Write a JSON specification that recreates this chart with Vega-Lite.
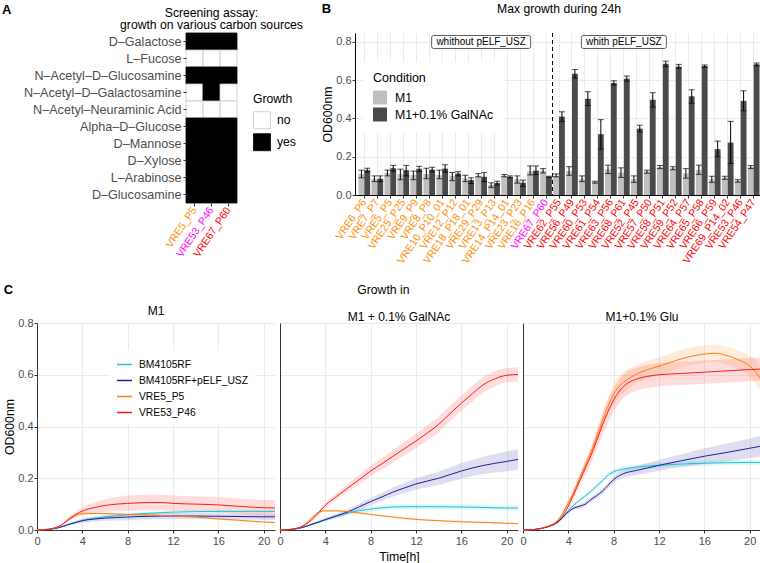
{
"$schema": "https://vega.github.io/schema/vega-lite/v6.json",
"background": "white",
"padding": {"left": 2, "top": 3, "right": 0, "bottom": 0},
"config": {
  "font": "Liberation Sans",
  "view": {"stroke": null},
  "axis": {"labelColor": "#4d4d4d", "tickColor": "#333333", "domainColor": "#333333", "gridColor": "#ebebeb", "titleFontWeight": "normal", "titleColor": "#000000", "titleFontSize": 12.3, "labelFontSize": 11, "tickSize": 3, "labelFont": "Liberation Sans", "titleFont": "Liberation Sans"},
  "title": {"fontWeight": "normal", "color": "#000000", "font": "Liberation Sans"},
  "legend": {"titleFontWeight": "normal", "labelColor": "#000000", "titleColor": "#000000", "labelFont": "Liberation Sans", "titleFont": "Liberation Sans"}
},
"datasets": {
  "heat": [
    {"source": "D–Galactose", "strain": "VRE5_P5", "growth": "yes"},
    {"source": "D–Galactose", "strain": "VRE53_P46", "growth": "yes"},
    {"source": "D–Galactose", "strain": "VRE67_P60", "growth": "yes"},
    {"source": "L–Fucose", "strain": "VRE5_P5", "growth": "no"},
    {"source": "L–Fucose", "strain": "VRE53_P46", "growth": "no"},
    {"source": "L–Fucose", "strain": "VRE67_P60", "growth": "no"},
    {"source": "N–Acetyl–D–Glucosamine", "strain": "VRE5_P5", "growth": "yes"},
    {"source": "N–Acetyl–D–Glucosamine", "strain": "VRE53_P46", "growth": "yes"},
    {"source": "N–Acetyl–D–Glucosamine", "strain": "VRE67_P60", "growth": "yes"},
    {"source": "N–Acetyl–D–Galactosamine", "strain": "VRE5_P5", "growth": "no"},
    {"source": "N–Acetyl–D–Galactosamine", "strain": "VRE53_P46", "growth": "yes"},
    {"source": "N–Acetyl–D–Galactosamine", "strain": "VRE67_P60", "growth": "no"},
    {"source": "N–Acetyl–Neuraminic Acid", "strain": "VRE5_P5", "growth": "no"},
    {"source": "N–Acetyl–Neuraminic Acid", "strain": "VRE53_P46", "growth": "no"},
    {"source": "N–Acetyl–Neuraminic Acid", "strain": "VRE67_P60", "growth": "no"},
    {"source": "Alpha–D–Glucose", "strain": "VRE5_P5", "growth": "yes"},
    {"source": "Alpha–D–Glucose", "strain": "VRE53_P46", "growth": "yes"},
    {"source": "Alpha–D–Glucose", "strain": "VRE67_P60", "growth": "yes"},
    {"source": "D–Mannose", "strain": "VRE5_P5", "growth": "yes"},
    {"source": "D–Mannose", "strain": "VRE53_P46", "growth": "yes"},
    {"source": "D–Mannose", "strain": "VRE67_P60", "growth": "yes"},
    {"source": "D–Xylose", "strain": "VRE5_P5", "growth": "yes"},
    {"source": "D–Xylose", "strain": "VRE53_P46", "growth": "yes"},
    {"source": "D–Xylose", "strain": "VRE67_P60", "growth": "yes"},
    {"source": "L–Arabinose", "strain": "VRE5_P5", "growth": "yes"},
    {"source": "L–Arabinose", "strain": "VRE53_P46", "growth": "yes"},
    {"source": "L–Arabinose", "strain": "VRE67_P60", "growth": "yes"},
    {"source": "D–Glucosamine", "strain": "VRE5_P5", "growth": "yes"},
    {"source": "D–Glucosamine", "strain": "VRE53_P46", "growth": "yes"},
    {"source": "D–Glucosamine", "strain": "VRE67_P60", "growth": "yes"}
  ],
  "bars": [
    {"strain": "VRE6_P6", "cond": "M1", "mean": 0.11, "lo": 0.09, "hi": 0.13},
    {"strain": "VRE6_P6", "cond": "M1+0.1% GalNAc", "mean": 0.13, "lo": 0.12, "hi": 0.14},
    {"strain": "VRE7_P7", "cond": "M1", "mean": 0.085, "lo": 0.07, "hi": 0.1},
    {"strain": "VRE7_P7", "cond": "M1+0.1% GalNAc", "mean": 0.085, "lo": 0.07, "hi": 0.1},
    {"strain": "VRE5_P5", "cond": "M1", "mean": 0.115, "lo": 0.1, "hi": 0.13},
    {"strain": "VRE5_P5", "cond": "M1+0.1% GalNAc", "mean": 0.14, "lo": 0.125, "hi": 0.155},
    {"strain": "VRE25_P25", "cond": "M1", "mean": 0.11, "lo": 0.08, "hi": 0.135},
    {"strain": "VRE25_P25", "cond": "M1+0.1% GalNAc", "mean": 0.13, "lo": 0.1, "hi": 0.155},
    {"strain": "VRE9_P9", "cond": "M1", "mean": 0.105, "lo": 0.08, "hi": 0.125},
    {"strain": "VRE9_P9", "cond": "M1+0.1% GalNAc", "mean": 0.137, "lo": 0.122, "hi": 0.15},
    {"strain": "VRE8_P8", "cond": "M1", "mean": 0.11, "lo": 0.085, "hi": 0.14},
    {"strain": "VRE8_P8", "cond": "M1+0.1% GalNAc", "mean": 0.133, "lo": 0.12, "hi": 0.145},
    {"strain": "VRE10_P10_01", "cond": "M1", "mean": 0.105, "lo": 0.085, "hi": 0.13},
    {"strain": "VRE10_P10_01", "cond": "M1+0.1% GalNAc", "mean": 0.138, "lo": 0.12, "hi": 0.158},
    {"strain": "VRE12_P12", "cond": "M1", "mean": 0.1, "lo": 0.075, "hi": 0.118},
    {"strain": "VRE12_P12", "cond": "M1+0.1% GalNAc", "mean": 0.112, "lo": 0.1, "hi": 0.122},
    {"strain": "VRE18_P18_01", "cond": "M1", "mean": 0.086, "lo": 0.07, "hi": 0.103},
    {"strain": "VRE18_P18_01", "cond": "M1+0.1% GalNAc", "mean": 0.078, "lo": 0.06, "hi": 0.09},
    {"strain": "VRE29_P29", "cond": "M1", "mean": 0.1, "lo": 0.095, "hi": 0.112},
    {"strain": "VRE29_P29", "cond": "M1+0.1% GalNAc", "mean": 0.095, "lo": 0.07, "hi": 0.118},
    {"strain": "VRE13_P13", "cond": "M1", "mean": 0.053, "lo": 0.04, "hi": 0.064},
    {"strain": "VRE13_P13", "cond": "M1+0.1% GalNAc", "mean": 0.063, "lo": 0.052, "hi": 0.072},
    {"strain": "VRE14_P14_01", "cond": "M1", "mean": 0.1, "lo": 0.095, "hi": 0.107},
    {"strain": "VRE14_P14_01", "cond": "M1+0.1% GalNAc", "mean": 0.095, "lo": 0.09, "hi": 0.1},
    {"strain": "VRE23_P23", "cond": "M1", "mean": 0.083, "lo": 0.062, "hi": 0.1},
    {"strain": "VRE23_P23", "cond": "M1+0.1% GalNAc", "mean": 0.064, "lo": 0.045, "hi": 0.078},
    {"strain": "VRE16_P16", "cond": "M1", "mean": 0.124, "lo": 0.105, "hi": 0.152},
    {"strain": "VRE16_P16", "cond": "M1+0.1% GalNAc", "mean": 0.127, "lo": 0.107, "hi": 0.152},
    {"strain": "VRE67_P60", "cond": "M1", "mean": 0.127, "lo": 0.115, "hi": 0.138},
    {"strain": "VRE67_P60", "cond": "M1+0.1% GalNAc", "mean": 0.095, "lo": 0.092, "hi": 0.098},
    {"strain": "VRE62_P55", "cond": "M1", "mean": 0.1, "lo": 0.095, "hi": 0.11},
    {"strain": "VRE62_P55", "cond": "M1+0.1% GalNAc", "mean": 0.41, "lo": 0.385, "hi": 0.435},
    {"strain": "VRE56_P49", "cond": "M1", "mean": 0.125, "lo": 0.103, "hi": 0.148},
    {"strain": "VRE56_P49", "cond": "M1+0.1% GalNAc", "mean": 0.634, "lo": 0.612, "hi": 0.656},
    {"strain": "VRE60_P53", "cond": "M1", "mean": 0.085, "lo": 0.07, "hi": 0.1},
    {"strain": "VRE60_P53", "cond": "M1+0.1% GalNAc", "mean": 0.503, "lo": 0.468, "hi": 0.54},
    {"strain": "VRE61_P54", "cond": "M1", "mean": 0.067, "lo": 0.062, "hi": 0.072},
    {"strain": "VRE61_P54", "cond": "M1+0.1% GalNAc", "mean": 0.318, "lo": 0.24, "hi": 0.394},
    {"strain": "VRE63_P56", "cond": "M1", "mean": 0.134, "lo": 0.112, "hi": 0.156},
    {"strain": "VRE63_P56", "cond": "M1+0.1% GalNAc", "mean": 0.585, "lo": 0.575, "hi": 0.597},
    {"strain": "VRE68_P61", "cond": "M1", "mean": 0.117, "lo": 0.092, "hi": 0.142},
    {"strain": "VRE68_P61", "cond": "M1+0.1% GalNAc", "mean": 0.608, "lo": 0.595, "hi": 0.622},
    {"strain": "VRE52_P45", "cond": "M1", "mean": 0.083, "lo": 0.066, "hi": 0.1},
    {"strain": "VRE52_P45", "cond": "M1+0.1% GalNAc", "mean": 0.347, "lo": 0.33, "hi": 0.365},
    {"strain": "VRE57_P50", "cond": "M1", "mean": 0.122, "lo": 0.114, "hi": 0.13},
    {"strain": "VRE57_P50", "cond": "M1+0.1% GalNAc", "mean": 0.498, "lo": 0.46, "hi": 0.535},
    {"strain": "VRE58_P51", "cond": "M1", "mean": 0.146, "lo": 0.138, "hi": 0.154},
    {"strain": "VRE58_P51", "cond": "M1+0.1% GalNAc", "mean": 0.686, "lo": 0.671, "hi": 0.7},
    {"strain": "VRE59_P52", "cond": "M1", "mean": 0.14, "lo": 0.132, "hi": 0.148},
    {"strain": "VRE59_P52", "cond": "M1+0.1% GalNAc", "mean": 0.672, "lo": 0.662, "hi": 0.683},
    {"strain": "VRE64_P57", "cond": "M1", "mean": 0.113, "lo": 0.088, "hi": 0.138},
    {"strain": "VRE64_P57", "cond": "M1+0.1% GalNAc", "mean": 0.516, "lo": 0.48, "hi": 0.55},
    {"strain": "VRE65_P58", "cond": "M1", "mean": 0.132, "lo": 0.108, "hi": 0.156},
    {"strain": "VRE65_P58", "cond": "M1+0.1% GalNAc", "mean": 0.674, "lo": 0.668, "hi": 0.68},
    {"strain": "VRE66_P59", "cond": "M1", "mean": 0.082, "lo": 0.066, "hi": 0.098},
    {"strain": "VRE66_P59", "cond": "M1+0.1% GalNAc", "mean": 0.24, "lo": 0.2, "hi": 0.282},
    {"strain": "VRE69_P14_02", "cond": "M1", "mean": 0.09, "lo": 0.082, "hi": 0.098},
    {"strain": "VRE69_P14_02", "cond": "M1+0.1% GalNAc", "mean": 0.274, "lo": 0.165, "hi": 0.385},
    {"strain": "VRE53_P46", "cond": "M1", "mean": 0.073, "lo": 0.067, "hi": 0.08},
    {"strain": "VRE53_P46", "cond": "M1+0.1% GalNAc", "mean": 0.492, "lo": 0.44, "hi": 0.545},
    {"strain": "VRE54_P47", "cond": "M1", "mean": 0.146, "lo": 0.138, "hi": 0.154},
    {"strain": "VRE54_P47", "cond": "M1+0.1% GalNAc", "mean": 0.683, "lo": 0.675, "hi": 0.69}
  ],
  "ann": [
    {"strain": "VRE29_P29", "y": 0.8, "label": "whithout pELF_USZ"},
    {"strain": "VRE68_P61", "y": 0.8, "label": "whith pELF_USZ"}
  ],
  "sep": [{"strain": "VRE62_P55"}],
  "empty": [],
  "curves": [
    {"c":"M1","s":"BM4105RF","t":0,"m":0,"lo":0,"hi":0},
    {"c":"M1","s":"BM4105RF","t":1,"m":0.002,"lo":0.002,"hi":0.002},
    {"c":"M1","s":"BM4105RF","t":2,"m":0.01,"lo":0.008,"hi":0.012},
    {"c":"M1","s":"BM4105RF","t":3,"m":0.025,"lo":0.021,"hi":0.029},
    {"c":"M1","s":"BM4105RF","t":3.5,"m":0.031,"lo":0.027,"hi":0.035},
    {"c":"M1","s":"BM4105RF","t":4,"m":0.037,"lo":0.032,"hi":0.042},
    {"c":"M1","s":"BM4105RF","t":5,"m":0.045,"lo":0.04,"hi":0.05},
    {"c":"M1","s":"BM4105RF","t":6,"m":0.051,"lo":0.046,"hi":0.056},
    {"c":"M1","s":"BM4105RF","t":7,"m":0.055,"lo":0.05,"hi":0.06},
    {"c":"M1","s":"BM4105RF","t":8,"m":0.059,"lo":0.054,"hi":0.064},
    {"c":"M1","s":"BM4105RF","t":9,"m":0.062,"lo":0.057,"hi":0.067},
    {"c":"M1","s":"BM4105RF","t":10,"m":0.065,"lo":0.06,"hi":0.07},
    {"c":"M1","s":"BM4105RF","t":11,"m":0.067,"lo":0.062,"hi":0.072},
    {"c":"M1","s":"BM4105RF","t":12,"m":0.069,"lo":0.064,"hi":0.074},
    {"c":"M1","s":"BM4105RF","t":14,"m":0.071,"lo":0.066,"hi":0.076},
    {"c":"M1","s":"BM4105RF","t":16,"m":0.072,"lo":0.067,"hi":0.077},
    {"c":"M1","s":"BM4105RF","t":18,"m":0.072,"lo":0.067,"hi":0.077},
    {"c":"M1","s":"BM4105RF","t":20,"m":0.072,"lo":0.067,"hi":0.077},
    {"c":"M1","s":"BM4105RF","t":21,"m":0.072,"lo":0.067,"hi":0.077},
    {"c":"M1","s":"BM4105RF+pELF_USZ","t":0,"m":0,"lo":0,"hi":0},
    {"c":"M1","s":"BM4105RF+pELF_USZ","t":1,"m":0.002,"lo":0.002,"hi":0.002},
    {"c":"M1","s":"BM4105RF+pELF_USZ","t":2,"m":0.01,"lo":0.008,"hi":0.012},
    {"c":"M1","s":"BM4105RF+pELF_USZ","t":3,"m":0.024,"lo":0.019,"hi":0.029},
    {"c":"M1","s":"BM4105RF+pELF_USZ","t":3.5,"m":0.03,"lo":0.024,"hi":0.036},
    {"c":"M1","s":"BM4105RF+pELF_USZ","t":4,"m":0.036,"lo":0.028,"hi":0.044},
    {"c":"M1","s":"BM4105RF+pELF_USZ","t":5,"m":0.042,"lo":0.032,"hi":0.052},
    {"c":"M1","s":"BM4105RF+pELF_USZ","t":6,"m":0.046,"lo":0.036,"hi":0.056},
    {"c":"M1","s":"BM4105RF+pELF_USZ","t":7,"m":0.048,"lo":0.037,"hi":0.059},
    {"c":"M1","s":"BM4105RF+pELF_USZ","t":8,"m":0.05,"lo":0.038,"hi":0.062},
    {"c":"M1","s":"BM4105RF+pELF_USZ","t":9,"m":0.052,"lo":0.04,"hi":0.064},
    {"c":"M1","s":"BM4105RF+pELF_USZ","t":10,"m":0.053,"lo":0.041,"hi":0.065},
    {"c":"M1","s":"BM4105RF+pELF_USZ","t":11,"m":0.054,"lo":0.042,"hi":0.066},
    {"c":"M1","s":"BM4105RF+pELF_USZ","t":12,"m":0.054,"lo":0.042,"hi":0.066},
    {"c":"M1","s":"BM4105RF+pELF_USZ","t":14,"m":0.054,"lo":0.042,"hi":0.066},
    {"c":"M1","s":"BM4105RF+pELF_USZ","t":16,"m":0.053,"lo":0.041,"hi":0.065},
    {"c":"M1","s":"BM4105RF+pELF_USZ","t":18,"m":0.052,"lo":0.04,"hi":0.064},
    {"c":"M1","s":"BM4105RF+pELF_USZ","t":20,"m":0.051,"lo":0.039,"hi":0.063},
    {"c":"M1","s":"BM4105RF+pELF_USZ","t":21,"m":0.051,"lo":0.039,"hi":0.063},
    {"c":"M1","s":"VRE5_P5","t":0,"m":0,"lo":0,"hi":0},
    {"c":"M1","s":"VRE5_P5","t":1,"m":0.003,"lo":0.003,"hi":0.003},
    {"c":"M1","s":"VRE5_P5","t":2,"m":0.015,"lo":0.013,"hi":0.017},
    {"c":"M1","s":"VRE5_P5","t":3,"m":0.045,"lo":0.041,"hi":0.049},
    {"c":"M1","s":"VRE5_P5","t":3.5,"m":0.058,"lo":0.054,"hi":0.062},
    {"c":"M1","s":"VRE5_P5","t":4,"m":0.063,"lo":0.059,"hi":0.067},
    {"c":"M1","s":"VRE5_P5","t":5,"m":0.064,"lo":0.06,"hi":0.068},
    {"c":"M1","s":"VRE5_P5","t":6,"m":0.063,"lo":0.059,"hi":0.067},
    {"c":"M1","s":"VRE5_P5","t":7,"m":0.062,"lo":0.058,"hi":0.066},
    {"c":"M1","s":"VRE5_P5","t":8,"m":0.06,"lo":0.056,"hi":0.064},
    {"c":"M1","s":"VRE5_P5","t":9,"m":0.059,"lo":0.055,"hi":0.063},
    {"c":"M1","s":"VRE5_P5","t":10,"m":0.058,"lo":0.054,"hi":0.062},
    {"c":"M1","s":"VRE5_P5","t":11,"m":0.056,"lo":0.052,"hi":0.06},
    {"c":"M1","s":"VRE5_P5","t":12,"m":0.054,"lo":0.05,"hi":0.058},
    {"c":"M1","s":"VRE5_P5","t":14,"m":0.05,"lo":0.046,"hi":0.054},
    {"c":"M1","s":"VRE5_P5","t":16,"m":0.043,"lo":0.039,"hi":0.047},
    {"c":"M1","s":"VRE5_P5","t":18,"m":0.037,"lo":0.033,"hi":0.041},
    {"c":"M1","s":"VRE5_P5","t":20,"m":0.031,"lo":0.027,"hi":0.035},
    {"c":"M1","s":"VRE5_P5","t":21,"m":0.029,"lo":0.025,"hi":0.033},
    {"c":"M1","s":"VRE53_P46","t":0,"m":0,"lo":0,"hi":0},
    {"c":"M1","s":"VRE53_P46","t":1,"m":0.003,"lo":0.002,"hi":0.004},
    {"c":"M1","s":"VRE53_P46","t":2,"m":0.016,"lo":0.013,"hi":0.019},
    {"c":"M1","s":"VRE53_P46","t":3,"m":0.048,"lo":0.04,"hi":0.056},
    {"c":"M1","s":"VRE53_P46","t":3.5,"m":0.062,"lo":0.05,"hi":0.074},
    {"c":"M1","s":"VRE53_P46","t":4,"m":0.073,"lo":0.058,"hi":0.088},
    {"c":"M1","s":"VRE53_P46","t":5,"m":0.086,"lo":0.066,"hi":0.106},
    {"c":"M1","s":"VRE53_P46","t":6,"m":0.095,"lo":0.07,"hi":0.12},
    {"c":"M1","s":"VRE53_P46","t":7,"m":0.1,"lo":0.072,"hi":0.128},
    {"c":"M1","s":"VRE53_P46","t":8,"m":0.103,"lo":0.073,"hi":0.133},
    {"c":"M1","s":"VRE53_P46","t":9,"m":0.105,"lo":0.075,"hi":0.135},
    {"c":"M1","s":"VRE53_P46","t":10,"m":0.106,"lo":0.076,"hi":0.136},
    {"c":"M1","s":"VRE53_P46","t":11,"m":0.106,"lo":0.076,"hi":0.136},
    {"c":"M1","s":"VRE53_P46","t":12,"m":0.103,"lo":0.073,"hi":0.133},
    {"c":"M1","s":"VRE53_P46","t":14,"m":0.1,"lo":0.07,"hi":0.13},
    {"c":"M1","s":"VRE53_P46","t":16,"m":0.097,"lo":0.067,"hi":0.127},
    {"c":"M1","s":"VRE53_P46","t":18,"m":0.091,"lo":0.061,"hi":0.121},
    {"c":"M1","s":"VRE53_P46","t":20,"m":0.086,"lo":0.056,"hi":0.116},
    {"c":"M1","s":"VRE53_P46","t":21,"m":0.085,"lo":0.055,"hi":0.115},
    {"c":"GalNAc","s":"BM4105RF","t":0,"m":0,"lo":0,"hi":0},
    {"c":"GalNAc","s":"BM4105RF","t":1,"m":0.002,"lo":0.002,"hi":0.002},
    {"c":"GalNAc","s":"BM4105RF","t":2,"m":0.01,"lo":0.008,"hi":0.012},
    {"c":"GalNAc","s":"BM4105RF","t":3,"m":0.025,"lo":0.021,"hi":0.029},
    {"c":"GalNAc","s":"BM4105RF","t":3.5,"m":0.033,"lo":0.028,"hi":0.038},
    {"c":"GalNAc","s":"BM4105RF","t":4,"m":0.04,"lo":0.034,"hi":0.046},
    {"c":"GalNAc","s":"BM4105RF","t":5,"m":0.053,"lo":0.045,"hi":0.061},
    {"c":"GalNAc","s":"BM4105RF","t":6,"m":0.066,"lo":0.057,"hi":0.075},
    {"c":"GalNAc","s":"BM4105RF","t":7,"m":0.075,"lo":0.065,"hi":0.085},
    {"c":"GalNAc","s":"BM4105RF","t":8,"m":0.081,"lo":0.071,"hi":0.091},
    {"c":"GalNAc","s":"BM4105RF","t":9,"m":0.086,"lo":0.076,"hi":0.096},
    {"c":"GalNAc","s":"BM4105RF","t":10,"m":0.089,"lo":0.079,"hi":0.099},
    {"c":"GalNAc","s":"BM4105RF","t":11,"m":0.09,"lo":0.08,"hi":0.1},
    {"c":"GalNAc","s":"BM4105RF","t":12,"m":0.09,"lo":0.08,"hi":0.1},
    {"c":"GalNAc","s":"BM4105RF","t":14,"m":0.09,"lo":0.08,"hi":0.1},
    {"c":"GalNAc","s":"BM4105RF","t":16,"m":0.089,"lo":0.079,"hi":0.099},
    {"c":"GalNAc","s":"BM4105RF","t":18,"m":0.087,"lo":0.077,"hi":0.097},
    {"c":"GalNAc","s":"BM4105RF","t":20,"m":0.085,"lo":0.075,"hi":0.095},
    {"c":"GalNAc","s":"BM4105RF","t":21,"m":0.085,"lo":0.075,"hi":0.095},
    {"c":"GalNAc","s":"BM4105RF+pELF_USZ","t":0,"m":0,"lo":0,"hi":0},
    {"c":"GalNAc","s":"BM4105RF+pELF_USZ","t":1,"m":0.002,"lo":0.002,"hi":0.002},
    {"c":"GalNAc","s":"BM4105RF+pELF_USZ","t":2,"m":0.01,"lo":0.008,"hi":0.012},
    {"c":"GalNAc","s":"BM4105RF+pELF_USZ","t":3,"m":0.025,"lo":0.021,"hi":0.029},
    {"c":"GalNAc","s":"BM4105RF+pELF_USZ","t":3.5,"m":0.032,"lo":0.027,"hi":0.037},
    {"c":"GalNAc","s":"BM4105RF+pELF_USZ","t":4,"m":0.04,"lo":0.034,"hi":0.046},
    {"c":"GalNAc","s":"BM4105RF+pELF_USZ","t":5,"m":0.055,"lo":0.047,"hi":0.063},
    {"c":"GalNAc","s":"BM4105RF+pELF_USZ","t":6,"m":0.07,"lo":0.06,"hi":0.08},
    {"c":"GalNAc","s":"BM4105RF+pELF_USZ","t":7,"m":0.09,"lo":0.078,"hi":0.102},
    {"c":"GalNAc","s":"BM4105RF+pELF_USZ","t":8,"m":0.11,"lo":0.096,"hi":0.124},
    {"c":"GalNAc","s":"BM4105RF+pELF_USZ","t":9,"m":0.128,"lo":0.112,"hi":0.144},
    {"c":"GalNAc","s":"BM4105RF+pELF_USZ","t":10,"m":0.147,"lo":0.129,"hi":0.165},
    {"c":"GalNAc","s":"BM4105RF+pELF_USZ","t":11,"m":0.163,"lo":0.143,"hi":0.183},
    {"c":"GalNAc","s":"BM4105RF+pELF_USZ","t":12,"m":0.178,"lo":0.156,"hi":0.2},
    {"c":"GalNAc","s":"BM4105RF+pELF_USZ","t":14,"m":0.2,"lo":0.174,"hi":0.226},
    {"c":"GalNAc","s":"BM4105RF+pELF_USZ","t":16,"m":0.228,"lo":0.198,"hi":0.258},
    {"c":"GalNAc","s":"BM4105RF+pELF_USZ","t":18,"m":0.25,"lo":0.216,"hi":0.284},
    {"c":"GalNAc","s":"BM4105RF+pELF_USZ","t":19,"m":0.258,"lo":0.222,"hi":0.294},
    {"c":"GalNAc","s":"BM4105RF+pELF_USZ","t":20,"m":0.265,"lo":0.227,"hi":0.303},
    {"c":"GalNAc","s":"BM4105RF+pELF_USZ","t":21,"m":0.273,"lo":0.233,"hi":0.313},
    {"c":"GalNAc","s":"VRE5_P5","t":0,"m":0,"lo":0,"hi":0},
    {"c":"GalNAc","s":"VRE5_P5","t":1,"m":0.003,"lo":0.003,"hi":0.003},
    {"c":"GalNAc","s":"VRE5_P5","t":2,"m":0.015,"lo":0.013,"hi":0.017},
    {"c":"GalNAc","s":"VRE5_P5","t":3,"m":0.055,"lo":0.051,"hi":0.059},
    {"c":"GalNAc","s":"VRE5_P5","t":3.5,"m":0.07,"lo":0.066,"hi":0.074},
    {"c":"GalNAc","s":"VRE5_P5","t":4,"m":0.074,"lo":0.07,"hi":0.078},
    {"c":"GalNAc","s":"VRE5_P5","t":5,"m":0.074,"lo":0.07,"hi":0.078},
    {"c":"GalNAc","s":"VRE5_P5","t":6,"m":0.071,"lo":0.067,"hi":0.075},
    {"c":"GalNAc","s":"VRE5_P5","t":7,"m":0.066,"lo":0.062,"hi":0.07},
    {"c":"GalNAc","s":"VRE5_P5","t":8,"m":0.06,"lo":0.056,"hi":0.064},
    {"c":"GalNAc","s":"VRE5_P5","t":9,"m":0.055,"lo":0.051,"hi":0.059},
    {"c":"GalNAc","s":"VRE5_P5","t":10,"m":0.05,"lo":0.046,"hi":0.054},
    {"c":"GalNAc","s":"VRE5_P5","t":11,"m":0.045,"lo":0.041,"hi":0.049},
    {"c":"GalNAc","s":"VRE5_P5","t":12,"m":0.041,"lo":0.037,"hi":0.045},
    {"c":"GalNAc","s":"VRE5_P5","t":14,"m":0.036,"lo":0.032,"hi":0.04},
    {"c":"GalNAc","s":"VRE5_P5","t":16,"m":0.032,"lo":0.028,"hi":0.036},
    {"c":"GalNAc","s":"VRE5_P5","t":18,"m":0.029,"lo":0.025,"hi":0.033},
    {"c":"GalNAc","s":"VRE5_P5","t":20,"m":0.026,"lo":0.022,"hi":0.03},
    {"c":"GalNAc","s":"VRE5_P5","t":21,"m":0.025,"lo":0.021,"hi":0.029},
    {"c":"GalNAc","s":"VRE53_P46","t":0,"m":0,"lo":0,"hi":0},
    {"c":"GalNAc","s":"VRE53_P46","t":1,"m":0.003,"lo":0.002,"hi":0.004},
    {"c":"GalNAc","s":"VRE53_P46","t":2,"m":0.015,"lo":0.012,"hi":0.018},
    {"c":"GalNAc","s":"VRE53_P46","t":3,"m":0.048,"lo":0.042,"hi":0.054},
    {"c":"GalNAc","s":"VRE53_P46","t":3.5,"m":0.072,"lo":0.064,"hi":0.08},
    {"c":"GalNAc","s":"VRE53_P46","t":4,"m":0.095,"lo":0.085,"hi":0.105},
    {"c":"GalNAc","s":"VRE53_P46","t":5,"m":0.13,"lo":0.117,"hi":0.143},
    {"c":"GalNAc","s":"VRE53_P46","t":6,"m":0.163,"lo":0.147,"hi":0.179},
    {"c":"GalNAc","s":"VRE53_P46","t":7,"m":0.195,"lo":0.177,"hi":0.213},
    {"c":"GalNAc","s":"VRE53_P46","t":8,"m":0.228,"lo":0.208,"hi":0.248},
    {"c":"GalNAc","s":"VRE53_P46","t":9,"m":0.256,"lo":0.234,"hi":0.278},
    {"c":"GalNAc","s":"VRE53_P46","t":10,"m":0.286,"lo":0.262,"hi":0.31},
    {"c":"GalNAc","s":"VRE53_P46","t":11,"m":0.315,"lo":0.289,"hi":0.341},
    {"c":"GalNAc","s":"VRE53_P46","t":12,"m":0.344,"lo":0.316,"hi":0.372},
    {"c":"GalNAc","s":"VRE53_P46","t":13,"m":0.375,"lo":0.346,"hi":0.404},
    {"c":"GalNAc","s":"VRE53_P46","t":14,"m":0.408,"lo":0.378,"hi":0.438},
    {"c":"GalNAc","s":"VRE53_P46","t":15,"m":0.45,"lo":0.42,"hi":0.48},
    {"c":"GalNAc","s":"VRE53_P46","t":16,"m":0.49,"lo":0.46,"hi":0.52},
    {"c":"GalNAc","s":"VRE53_P46","t":17,"m":0.528,"lo":0.498,"hi":0.558},
    {"c":"GalNAc","s":"VRE53_P46","t":18,"m":0.563,"lo":0.533,"hi":0.593},
    {"c":"GalNAc","s":"VRE53_P46","t":19,"m":0.585,"lo":0.556,"hi":0.614},
    {"c":"GalNAc","s":"VRE53_P46","t":20,"m":0.598,"lo":0.57,"hi":0.626},
    {"c":"GalNAc","s":"VRE53_P46","t":21,"m":0.601,"lo":0.573,"hi":0.629},
    {"c":"Glu","s":"BM4105RF","t":0,"m":0,"lo":0,"hi":0},
    {"c":"Glu","s":"BM4105RF","t":1,"m":0.002,"lo":0.002,"hi":0.002},
    {"c":"Glu","s":"BM4105RF","t":2,"m":0.01,"lo":0.008,"hi":0.012},
    {"c":"Glu","s":"BM4105RF","t":2.5,"m":0.018,"lo":0.015,"hi":0.021},
    {"c":"Glu","s":"BM4105RF","t":3,"m":0.03,"lo":0.026,"hi":0.034},
    {"c":"Glu","s":"BM4105RF","t":3.5,"m":0.05,"lo":0.045,"hi":0.055},
    {"c":"Glu","s":"BM4105RF","t":4,"m":0.075,"lo":0.069,"hi":0.081},
    {"c":"Glu","s":"BM4105RF","t":4.5,"m":0.097,"lo":0.09,"hi":0.104},
    {"c":"Glu","s":"BM4105RF","t":5,"m":0.115,"lo":0.107,"hi":0.123},
    {"c":"Glu","s":"BM4105RF","t":5.5,"m":0.132,"lo":0.124,"hi":0.14},
    {"c":"Glu","s":"BM4105RF","t":6,"m":0.15,"lo":0.141,"hi":0.159},
    {"c":"Glu","s":"BM4105RF","t":6.5,"m":0.17,"lo":0.16,"hi":0.18},
    {"c":"Glu","s":"BM4105RF","t":7,"m":0.19,"lo":0.18,"hi":0.2},
    {"c":"Glu","s":"BM4105RF","t":7.5,"m":0.212,"lo":0.202,"hi":0.222},
    {"c":"Glu","s":"BM4105RF","t":8,"m":0.225,"lo":0.215,"hi":0.235},
    {"c":"Glu","s":"BM4105RF","t":8.5,"m":0.232,"lo":0.222,"hi":0.242},
    {"c":"Glu","s":"BM4105RF","t":9,"m":0.237,"lo":0.227,"hi":0.247},
    {"c":"Glu","s":"BM4105RF","t":10,"m":0.243,"lo":0.233,"hi":0.253},
    {"c":"Glu","s":"BM4105RF","t":12,"m":0.25,"lo":0.24,"hi":0.26},
    {"c":"Glu","s":"BM4105RF","t":14,"m":0.255,"lo":0.245,"hi":0.265},
    {"c":"Glu","s":"BM4105RF","t":16,"m":0.258,"lo":0.248,"hi":0.268},
    {"c":"Glu","s":"BM4105RF","t":18,"m":0.26,"lo":0.25,"hi":0.27},
    {"c":"Glu","s":"BM4105RF","t":20,"m":0.261,"lo":0.251,"hi":0.271},
    {"c":"Glu","s":"BM4105RF","t":21,"m":0.261,"lo":0.251,"hi":0.271},
    {"c":"Glu","s":"BM4105RF+pELF_USZ","t":0,"m":0,"lo":0,"hi":0},
    {"c":"Glu","s":"BM4105RF+pELF_USZ","t":1,"m":0.002,"lo":0.002,"hi":0.002},
    {"c":"Glu","s":"BM4105RF+pELF_USZ","t":2,"m":0.01,"lo":0.008,"hi":0.012},
    {"c":"Glu","s":"BM4105RF+pELF_USZ","t":2.5,"m":0.017,"lo":0.014,"hi":0.02},
    {"c":"Glu","s":"BM4105RF+pELF_USZ","t":3,"m":0.028,"lo":0.024,"hi":0.032},
    {"c":"Glu","s":"BM4105RF+pELF_USZ","t":3.5,"m":0.048,"lo":0.043,"hi":0.053},
    {"c":"Glu","s":"BM4105RF+pELF_USZ","t":4,"m":0.07,"lo":0.064,"hi":0.076},
    {"c":"Glu","s":"BM4105RF+pELF_USZ","t":4.5,"m":0.085,"lo":0.078,"hi":0.092},
    {"c":"Glu","s":"BM4105RF+pELF_USZ","t":5,"m":0.092,"lo":0.084,"hi":0.1},
    {"c":"Glu","s":"BM4105RF+pELF_USZ","t":5.5,"m":0.1,"lo":0.092,"hi":0.108},
    {"c":"Glu","s":"BM4105RF+pELF_USZ","t":6,"m":0.118,"lo":0.109,"hi":0.127},
    {"c":"Glu","s":"BM4105RF+pELF_USZ","t":6.5,"m":0.133,"lo":0.123,"hi":0.143},
    {"c":"Glu","s":"BM4105RF+pELF_USZ","t":7,"m":0.15,"lo":0.139,"hi":0.161},
    {"c":"Glu","s":"BM4105RF+pELF_USZ","t":7.5,"m":0.172,"lo":0.16,"hi":0.184},
    {"c":"Glu","s":"BM4105RF+pELF_USZ","t":8,"m":0.195,"lo":0.182,"hi":0.208},
    {"c":"Glu","s":"BM4105RF+pELF_USZ","t":8.5,"m":0.21,"lo":0.196,"hi":0.224},
    {"c":"Glu","s":"BM4105RF+pELF_USZ","t":9,"m":0.22,"lo":0.205,"hi":0.235},
    {"c":"Glu","s":"BM4105RF+pELF_USZ","t":10,"m":0.23,"lo":0.213,"hi":0.247},
    {"c":"Glu","s":"BM4105RF+pELF_USZ","t":11,"m":0.24,"lo":0.221,"hi":0.259},
    {"c":"Glu","s":"BM4105RF+pELF_USZ","t":12,"m":0.25,"lo":0.229,"hi":0.271},
    {"c":"Glu","s":"BM4105RF+pELF_USZ","t":14,"m":0.268,"lo":0.243,"hi":0.293},
    {"c":"Glu","s":"BM4105RF+pELF_USZ","t":16,"m":0.285,"lo":0.255,"hi":0.315},
    {"c":"Glu","s":"BM4105RF+pELF_USZ","t":18,"m":0.3,"lo":0.266,"hi":0.334},
    {"c":"Glu","s":"BM4105RF+pELF_USZ","t":20,"m":0.316,"lo":0.278,"hi":0.354},
    {"c":"Glu","s":"BM4105RF+pELF_USZ","t":21,"m":0.324,"lo":0.284,"hi":0.364},
    {"c":"Glu","s":"VRE5_P5","t":0,"m":0,"lo":0,"hi":0},
    {"c":"Glu","s":"VRE5_P5","t":1,"m":0.002,"lo":0.002,"hi":0.002},
    {"c":"Glu","s":"VRE5_P5","t":2,"m":0.012,"lo":0.01,"hi":0.014},
    {"c":"Glu","s":"VRE5_P5","t":2.5,"m":0.02,"lo":0.017,"hi":0.023},
    {"c":"Glu","s":"VRE5_P5","t":3,"m":0.035,"lo":0.03,"hi":0.04},
    {"c":"Glu","s":"VRE5_P5","t":3.5,"m":0.065,"lo":0.057,"hi":0.073},
    {"c":"Glu","s":"VRE5_P5","t":4,"m":0.106,"lo":0.094,"hi":0.118},
    {"c":"Glu","s":"VRE5_P5","t":4.5,"m":0.15,"lo":0.135,"hi":0.165},
    {"c":"Glu","s":"VRE5_P5","t":5,"m":0.2,"lo":0.182,"hi":0.218},
    {"c":"Glu","s":"VRE5_P5","t":5.5,"m":0.25,"lo":0.23,"hi":0.27},
    {"c":"Glu","s":"VRE5_P5","t":6,"m":0.3,"lo":0.278,"hi":0.322},
    {"c":"Glu","s":"VRE5_P5","t":6.5,"m":0.36,"lo":0.335,"hi":0.385},
    {"c":"Glu","s":"VRE5_P5","t":7,"m":0.42,"lo":0.39,"hi":0.45},
    {"c":"Glu","s":"VRE5_P5","t":7.5,"m":0.478,"lo":0.443,"hi":0.513},
    {"c":"Glu","s":"VRE5_P5","t":8,"m":0.525,"lo":0.485,"hi":0.565},
    {"c":"Glu","s":"VRE5_P5","t":8.5,"m":0.556,"lo":0.516,"hi":0.596},
    {"c":"Glu","s":"VRE5_P5","t":9,"m":0.575,"lo":0.535,"hi":0.615},
    {"c":"Glu","s":"VRE5_P5","t":10,"m":0.602,"lo":0.567,"hi":0.637},
    {"c":"Glu","s":"VRE5_P5","t":11,"m":0.62,"lo":0.585,"hi":0.655},
    {"c":"Glu","s":"VRE5_P5","t":12,"m":0.633,"lo":0.598,"hi":0.668},
    {"c":"Glu","s":"VRE5_P5","t":14,"m":0.662,"lo":0.627,"hi":0.697},
    {"c":"Glu","s":"VRE5_P5","t":16,"m":0.68,"lo":0.646,"hi":0.714},
    {"c":"Glu","s":"VRE5_P5","t":17,"m":0.683,"lo":0.649,"hi":0.717},
    {"c":"Glu","s":"VRE5_P5","t":18,"m":0.674,"lo":0.64,"hi":0.708},
    {"c":"Glu","s":"VRE5_P5","t":19,"m":0.658,"lo":0.623,"hi":0.693},
    {"c":"Glu","s":"VRE5_P5","t":20,"m":0.634,"lo":0.594,"hi":0.674},
    {"c":"Glu","s":"VRE5_P5","t":20.5,"m":0.612,"lo":0.567,"hi":0.657},
    {"c":"Glu","s":"VRE5_P5","t":21,"m":0.582,"lo":0.532,"hi":0.632},
    {"c":"Glu","s":"VRE53_P46","t":0,"m":0,"lo":0,"hi":0},
    {"c":"Glu","s":"VRE53_P46","t":1,"m":0.002,"lo":0.002,"hi":0.002},
    {"c":"Glu","s":"VRE53_P46","t":2,"m":0.011,"lo":0.009,"hi":0.013},
    {"c":"Glu","s":"VRE53_P46","t":2.5,"m":0.018,"lo":0.015,"hi":0.021},
    {"c":"Glu","s":"VRE53_P46","t":3,"m":0.03,"lo":0.025,"hi":0.035},
    {"c":"Glu","s":"VRE53_P46","t":3.5,"m":0.055,"lo":0.047,"hi":0.063},
    {"c":"Glu","s":"VRE53_P46","t":4,"m":0.093,"lo":0.081,"hi":0.105},
    {"c":"Glu","s":"VRE53_P46","t":4.5,"m":0.14,"lo":0.124,"hi":0.156},
    {"c":"Glu","s":"VRE53_P46","t":5,"m":0.19,"lo":0.17,"hi":0.21},
    {"c":"Glu","s":"VRE53_P46","t":5.5,"m":0.24,"lo":0.215,"hi":0.265},
    {"c":"Glu","s":"VRE53_P46","t":6,"m":0.288,"lo":0.258,"hi":0.318},
    {"c":"Glu","s":"VRE53_P46","t":6.5,"m":0.345,"lo":0.31,"hi":0.38},
    {"c":"Glu","s":"VRE53_P46","t":7,"m":0.405,"lo":0.365,"hi":0.445},
    {"c":"Glu","s":"VRE53_P46","t":7.5,"m":0.458,"lo":0.413,"hi":0.503},
    {"c":"Glu","s":"VRE53_P46","t":8,"m":0.503,"lo":0.458,"hi":0.548},
    {"c":"Glu","s":"VRE53_P46","t":8.5,"m":0.537,"lo":0.492,"hi":0.582},
    {"c":"Glu","s":"VRE53_P46","t":9,"m":0.56,"lo":0.515,"hi":0.605},
    {"c":"Glu","s":"VRE53_P46","t":10,"m":0.583,"lo":0.538,"hi":0.628},
    {"c":"Glu","s":"VRE53_P46","t":11,"m":0.594,"lo":0.549,"hi":0.639},
    {"c":"Glu","s":"VRE53_P46","t":12,"m":0.6,"lo":0.555,"hi":0.645},
    {"c":"Glu","s":"VRE53_P46","t":14,"m":0.605,"lo":0.56,"hi":0.65},
    {"c":"Glu","s":"VRE53_P46","t":16,"m":0.61,"lo":0.565,"hi":0.655},
    {"c":"Glu","s":"VRE53_P46","t":18,"m":0.615,"lo":0.57,"hi":0.66},
    {"c":"Glu","s":"VRE53_P46","t":20,"m":0.62,"lo":0.575,"hi":0.665},
    {"c":"Glu","s":"VRE53_P46","t":21,"m":0.622,"lo":0.577,"hi":0.667}
  ]
},
"spacing": 17,
"resolve": {"scale": {"fill": "independent", "stroke": "independent", "shape": "independent"}, "legend": {"fill": "independent", "stroke": "independent"}},
"vconcat": [
  {
    "spacing": 11,
    "resolve": {"scale": {"fill": "independent", "stroke": "independent", "shape": "independent"}, "legend": {"fill": "independent", "stroke": "independent"}},
    "hconcat": [
      {"width": 1, "height": 1, "data": {"name": "empty"}, "mark": {"type": "point", "opacity": 0}, "encoding": {},
       "title": {"text": "A", "anchor": "start", "offset": 16, "fontSize": 13, "fontWeight": "bold"}},
      {
        "spacing": 18,
        "resolve": {"scale": {"fill": "independent", "stroke": "independent", "shape": "independent"}, "legend": {"fill": "independent", "stroke": "independent"}},
        "hconcat": [
          {
            "data": {"name": "heat"},
            "width": 51,
            "height": 170,
            "title": {"text": ["Screening assay:", "growth on various carbon sources"], "fontSize": 12.2, "lineHeight": 12.5, "offset": 1},
            "mark": {"type": "rect", "strokeWidth": 0.8},
            "encoding": {
              "x": {"field": "strain", "type": "nominal", "sort": ["VRE5_P5", "VRE53_P46", "VRE67_P60"], "title": null,
                    "scale": {"paddingInner": 0, "paddingOuter": 0},
                    "axis": {"labelAngle": -56, "labelFontSize": 10.5, "domain": false, "labelPadding": 2,
                             "labelColor": {"condition": [{"test": "datum.value == 'VRE5_P5'", "value": "#ff8c00"}, {"test": "datum.value == 'VRE53_P46'", "value": "#ff00ff"}], "value": "#ff0000"}}},
              "y": {"field": "source", "type": "nominal", "title": null,
                    "sort": ["D–Galactose", "L–Fucose", "N–Acetyl–D–Glucosamine", "N–Acetyl–D–Galactosamine", "N–Acetyl–Neuraminic Acid", "Alpha–D–Glucose", "D–Mannose", "D–Xylose", "L–Arabinose", "D–Glucosamine"],
                    "scale": {"paddingInner": 0, "paddingOuter": 0},
                    "axis": {"domain": false, "labelFontSize": 12.6, "labelPadding": 2}},
              "fill": {"field": "growth", "type": "nominal", "scale": {"domain": ["no", "yes"], "range": ["#ffffff", "#000000"]},
                       "legend": {"title": "Growth", "orient": "none", "legendX": 67, "legendY": 60, "symbolType": "square", "symbolSize": 289, "symbolStrokeColor": "#c8c8c8", "symbolStrokeWidth": 0.8, "labelFontSize": 12.2, "titleFontSize": 12.2, "rowPadding": 0, "labelOffset": 6, "titlePadding": 6}},
              "stroke": {"field": "growth", "type": "nominal", "scale": {"domain": ["no", "yes"], "range": ["#c8c8c8", "#000000"]}, "legend": null}
            }
          },
          {
            "title": {"text": "B", "anchor": "start", "frame": "bounds", "offset": 0, "dx": 0, "dy": 13, "fontSize": 13, "fontWeight": "bold"},
            "resolve": {"scale": {"fill": "independent", "shape": "independent"}},
            "vconcat": [
              {
                "width": 408,
                "height": 162,
                "title": {"text": "Max growth during 24h", "fontSize": 12.2, "offset": 17},
                "layer": [
                  {
                    "data": {"name": "bars"},
                    "mark": {"type": "bar"},
                    "encoding": {
                      "x": {"field": "strain", "type": "nominal", "title": null,
                            "sort": ["VRE6_P6","VRE7_P7","VRE5_P5","VRE25_P25","VRE9_P9","VRE8_P8","VRE10_P10_01","VRE12_P12","VRE18_P18_01","VRE29_P29","VRE13_P13","VRE14_P14_01","VRE23_P23","VRE16_P16","VRE67_P60","VRE62_P55","VRE56_P49","VRE60_P53","VRE61_P54","VRE63_P56","VRE68_P61","VRE52_P45","VRE57_P50","VRE58_P51","VRE59_P52","VRE64_P57","VRE65_P58","VRE66_P59","VRE69_P14_02","VRE53_P46","VRE54_P47"],
                            "scale": {"paddingInner": 0.1, "paddingOuter": 0.27},
                            "axis": {"labelAngle": -56, "labelFontSize": 10.5, "labelPadding": 2, "grid": true, "domainColor": "#000000",
                                     "labelColor": {"condition": [{"test": "indexof(['VRE6_P6','VRE7_P7','VRE5_P5','VRE25_P25','VRE9_P9','VRE8_P8','VRE10_P10_01','VRE12_P12','VRE18_P18_01','VRE29_P29','VRE13_P13','VRE14_P14_01','VRE23_P23','VRE16_P16'], datum.value) >= 0", "value": "#ff8c00"}, {"test": "datum.value == 'VRE67_P60'", "value": "#ff00ff"}], "value": "#ff0000"}}},
                      "xOffset": {"field": "cond", "type": "nominal", "sort": ["M1", "M1+0.1% GalNAc"], "scale": {"paddingInner": 0, "paddingOuter": 0}},
                      "y": {"field": "mean", "type": "quantitative", "title": "OD600nm", "scale": {"domain": [0, 0.847], "nice": false},
                            "axis": {"values": [0, 0.2, 0.4, 0.6, 0.8], "format": ".1f", "grid": true, "titlePadding": 1, "labelPadding": 1, "domainColor": "#000000"}},
                      "fill": {"field": "cond", "type": "nominal", "scale": {"domain": ["M1", "M1+0.1% GalNAc"], "range": ["#bfbfbf", "#4a4a4a"]},
                               "legend": {"title": "Condition", "orient": "none", "legendX": 8, "legendY": 29, "fillColor": "white", "padding": 10, "symbolType": "square", "symbolSize": 196, "symbolStrokeWidth": 0, "labelFontSize": 12.3, "titleFontSize": 12.5, "rowPadding": 3, "labelOffset": 8, "titlePadding": 6}}
                    }
                  },
                  {
                    "data": {"name": "bars"},
                    "mark": {"type": "rule", "color": "#000000", "strokeWidth": 1},
                    "encoding": {
                      "x": {"field": "strain", "type": "nominal", "title": null, "sort": ["VRE6_P6","VRE7_P7","VRE5_P5","VRE25_P25","VRE9_P9","VRE8_P8","VRE10_P10_01","VRE12_P12","VRE18_P18_01","VRE29_P29","VRE13_P13","VRE14_P14_01","VRE23_P23","VRE16_P16","VRE67_P60","VRE62_P55","VRE56_P49","VRE60_P53","VRE61_P54","VRE63_P56","VRE68_P61","VRE52_P45","VRE57_P50","VRE58_P51","VRE59_P52","VRE64_P57","VRE65_P58","VRE66_P59","VRE69_P14_02","VRE53_P46","VRE54_P47"]},
                      "xOffset": {"field": "cond", "type": "nominal", "sort": ["M1", "M1+0.1% GalNAc"]},
                      "y": {"field": "lo", "type": "quantitative", "title": "OD600nm"},
                      "y2": {"field": "hi"}
                    }
                  },
                  {
                    "data": {"name": "bars"},
                    "mark": {"type": "tick", "color": "#000000", "size": 6, "thickness": 1},
                    "encoding": {
                      "x": {"field": "strain", "type": "nominal", "title": null, "sort": ["VRE6_P6","VRE7_P7","VRE5_P5","VRE25_P25","VRE9_P9","VRE8_P8","VRE10_P10_01","VRE12_P12","VRE18_P18_01","VRE29_P29","VRE13_P13","VRE14_P14_01","VRE23_P23","VRE16_P16","VRE67_P60","VRE62_P55","VRE56_P49","VRE60_P53","VRE61_P54","VRE63_P56","VRE68_P61","VRE52_P45","VRE57_P50","VRE58_P51","VRE59_P52","VRE64_P57","VRE65_P58","VRE66_P59","VRE69_P14_02","VRE53_P46","VRE54_P47"]},
                      "xOffset": {"field": "cond", "type": "nominal", "sort": ["M1", "M1+0.1% GalNAc"]},
                      "y": {"field": "lo", "type": "quantitative", "title": "OD600nm"}
                    }
                  },
                  {
                    "data": {"name": "bars"},
                    "mark": {"type": "tick", "color": "#000000", "size": 6, "thickness": 1},
                    "encoding": {
                      "x": {"field": "strain", "type": "nominal", "title": null, "sort": ["VRE6_P6","VRE7_P7","VRE5_P5","VRE25_P25","VRE9_P9","VRE8_P8","VRE10_P10_01","VRE12_P12","VRE18_P18_01","VRE29_P29","VRE13_P13","VRE14_P14_01","VRE23_P23","VRE16_P16","VRE67_P60","VRE62_P55","VRE56_P49","VRE60_P53","VRE61_P54","VRE63_P56","VRE68_P61","VRE52_P45","VRE57_P50","VRE58_P51","VRE59_P52","VRE64_P57","VRE65_P58","VRE66_P59","VRE69_P14_02","VRE53_P46","VRE54_P47"]},
                      "xOffset": {"field": "cond", "type": "nominal", "sort": ["M1", "M1+0.1% GalNAc"]},
                      "y": {"field": "hi", "type": "quantitative", "title": "OD600nm"}
                    }
                  },
                  {
                    "data": {"name": "sep"},
                    "mark": {"type": "rule", "color": "#000000", "strokeWidth": 1, "strokeDash": [4, 3]},
                    "encoding": {
                      "x": {"field": "strain", "type": "nominal", "title": null, "bandPosition": -0.055, "sort": ["VRE6_P6","VRE7_P7","VRE5_P5","VRE25_P25","VRE9_P9","VRE8_P8","VRE10_P10_01","VRE12_P12","VRE18_P18_01","VRE29_P29","VRE13_P13","VRE14_P14_01","VRE23_P23","VRE16_P16","VRE67_P60","VRE62_P55","VRE56_P49","VRE60_P53","VRE61_P54","VRE63_P56","VRE68_P61","VRE52_P45","VRE57_P50","VRE58_P51","VRE59_P52","VRE64_P57","VRE65_P58","VRE66_P59","VRE69_P14_02","VRE53_P46","VRE54_P47"]}
                    }
                  },
                  {
                    "data": {"name": "ann"},
                    "mark": {"type": "point", "filled": true, "fill": "#ffffff", "stroke": "#333333", "strokeWidth": 0.8, "opacity": 1},
                    "encoding": {
                      "x": {"field": "strain", "type": "nominal", "title": null, "sort": ["VRE6_P6","VRE7_P7","VRE5_P5","VRE25_P25","VRE9_P9","VRE8_P8","VRE10_P10_01","VRE12_P12","VRE18_P18_01","VRE29_P29","VRE13_P13","VRE14_P14_01","VRE23_P23","VRE16_P16","VRE67_P60","VRE62_P55","VRE56_P49","VRE60_P53","VRE61_P54","VRE63_P56","VRE68_P61","VRE52_P45","VRE57_P50","VRE58_P51","VRE59_P52","VRE64_P57","VRE65_P58","VRE66_P59","VRE69_P14_02","VRE53_P46","VRE54_P47"]},
                      "y": {"field": "y", "type": "quantitative", "title": "OD600nm"},
                      "shape": {"field": "label", "type": "nominal", "legend": null,
                                "scale": {"domain": ["whithout pELF_USZ", "whith pELF_USZ"],
                                          "range": ["M-0.96,-0.131H0.96Q1,-0.131,1,-0.091V0.091Q1,0.131,0.96,0.131H-0.96Q-1,0.131,-1,0.091V-0.091Q-1,-0.131,-0.96,-0.131Z",
                                                    "M-0.819,-0.131H0.819Q0.859,-0.131,0.859,-0.091V0.091Q0.859,0.131,0.819,0.131H-0.819Q-0.859,0.131,-0.859,0.091V-0.091Q-0.859,-0.131,-0.819,-0.131Z"]}},
                      "size": {"value": 9801}
                    }
                  },
                  {
                    "data": {"name": "ann"},
                    "mark": {"type": "text", "fontSize": 10, "color": "#000000"},
                    "encoding": {
                      "x": {"field": "strain", "type": "nominal", "title": null, "sort": ["VRE6_P6","VRE7_P7","VRE5_P5","VRE25_P25","VRE9_P9","VRE8_P8","VRE10_P10_01","VRE12_P12","VRE18_P18_01","VRE29_P29","VRE13_P13","VRE14_P14_01","VRE23_P23","VRE16_P16","VRE67_P60","VRE62_P55","VRE56_P49","VRE60_P53","VRE61_P54","VRE63_P56","VRE68_P61","VRE52_P45","VRE57_P50","VRE58_P51","VRE59_P52","VRE64_P57","VRE65_P58","VRE66_P59","VRE69_P14_02","VRE53_P46","VRE54_P47"]},
                      "y": {"field": "y", "type": "quantitative", "title": "OD600nm"},
                      "text": {"field": "label"}
                    }
                  }
                ]
              }
            ]
          }
        ]
      }
    ]
  },
  {
    "spacing": 0,
    "resolve": {"scale": {"fill": "independent", "stroke": "independent"}, "legend": {"fill": "independent", "stroke": "independent"}},
    "hconcat": [
      {"width": 1, "height": 1, "data": {"name": "empty"}, "mark": {"type": "point", "opacity": 0}, "encoding": {}},
      {
        "title": {"text": "C", "anchor": "start", "frame": "bounds", "offset": 0, "dx": 0, "dy": 13, "fontSize": 13, "fontWeight": "bold"},
        "resolve": {"scale": {"fill": "independent", "stroke": "independent"}, "legend": {"fill": "independent", "stroke": "independent"}},
        "vconcat": [
          {
            "title": {"text": "Growth in", "fontSize": 12.2, "offset": 9, "anchor": "middle"},
            "bounds": "flush",
            "spacing": 5,
            "resolve": {"scale": {"fill": "independent", "stroke": "independent"}, "legend": {"fill": "independent", "stroke": "independent"}},
            "hconcat": [
              {
                "data": {"name": "curves"},
                "transform": [{"filter": "datum.c == 'M1'"}],
                "width": 238,
                "height": 207,
                "title": {"text": "M1", "fontSize": 12, "offset": -1},
                "layer": [
                  {
                    "mark": {"type": "area", "opacity": 0.15, "interpolate": "monotone"},
                    "encoding": {
                      "x": {"field": "t", "type": "quantitative", "title": null, "scale": {"domain": [0, 21], "nice": false}, "axis": {"values": [0, 4, 8, 12, 16, 20], "labelFlush": false, "grid": true}},
                      "y": {"field": "lo", "type": "quantitative", "title": "OD600nm", "scale": {"domain": [0, 0.8], "nice": false}, "axis": {"values": [0, 0.2, 0.4, 0.6, 0.8], "format": ".1f", "grid": true, "titlePadding": 1, "labelPadding": 1}},
                      "y2": {"field": "hi"},
                      "fill": {"field": "s", "type": "nominal", "scale": {"domain": ["BM4105RF", "BM4105RF+pELF_USZ", "VRE5_P5", "VRE53_P46"], "range": ["#1cc5cf", "#1f1f9a", "#ff7f0f", "#ff1a1a"]},
                               "legend": {"title": null, "orient": "none", "legendX": 73, "legendY": 27, "fillColor": "white", "padding": 6, "symbolType": "stroke", "symbolSize": 225, "symbolStrokeWidth": 1.5, "labelFontSize": 10.3, "rowPadding": 2, "labelOffset": 6, "symbolOpacity": 1}}
                    }
                  },
                  {
                    "mark": {"type": "line", "strokeWidth": 1, "interpolate": "monotone"},
                    "encoding": {
                      "x": {"field": "t", "type": "quantitative", "title": null},
                      "y": {"field": "m", "type": "quantitative", "title": "OD600nm"},
                      "stroke": {"field": "s", "type": "nominal", "scale": {"domain": ["BM4105RF", "BM4105RF+pELF_USZ", "VRE5_P5", "VRE53_P46"], "range": ["#1cc5cf", "#1f1f9a", "#ff7f0f", "#ff1a1a"]},
                                 "legend": {"title": null, "orient": "none", "legendX": 73, "legendY": 27, "fillColor": "white", "padding": 6, "symbolType": "stroke", "symbolSize": 225, "symbolStrokeWidth": 1.5, "labelFontSize": 10.3, "rowPadding": 2, "labelOffset": 6, "symbolOpacity": 1}}
                    }
                  }
                ]
              },
              {
                "data": {"name": "curves"},
                "transform": [{"filter": "datum.c == 'GalNAc'"}],
                "width": 238,
                "height": 207,
                "title": {"text": "M1 + 0.1% GalNAc", "fontSize": 12, "offset": -1},
                "layer": [
                  {
                    "mark": {"type": "area", "opacity": 0.15, "interpolate": "monotone"},
                    "encoding": {
                      "x": {"field": "t", "type": "quantitative", "title": "Time[h]", "scale": {"domain": [0, 21], "nice": false}, "axis": {"values": [0, 4, 8, 12, 16, 20], "labelFlush": false, "grid": true, "titlePadding": 4}},
                      "y": {"field": "lo", "type": "quantitative", "title": null, "scale": {"domain": [0, 0.8], "nice": false}, "axis": {"values": [0, 0.2, 0.4, 0.6, 0.8], "labels": false, "ticks": false, "grid": true}},
                      "y2": {"field": "hi"},
                      "fill": {"field": "s", "type": "nominal", "scale": {"domain": ["BM4105RF", "BM4105RF+pELF_USZ", "VRE5_P5", "VRE53_P46"], "range": ["#1cc5cf", "#1f1f9a", "#ff7f0f", "#ff1a1a"]}, "legend": null}
                    }
                  },
                  {
                    "mark": {"type": "line", "strokeWidth": 1, "interpolate": "monotone"},
                    "encoding": {
                      "x": {"field": "t", "type": "quantitative", "title": "Time[h]"},
                      "y": {"field": "m", "type": "quantitative", "title": null},
                      "stroke": {"field": "s", "type": "nominal", "scale": {"domain": ["BM4105RF", "BM4105RF+pELF_USZ", "VRE5_P5", "VRE53_P46"], "range": ["#1cc5cf", "#1f1f9a", "#ff7f0f", "#ff1a1a"]}, "legend": null}
                    }
                  }
                ]
              },
              {
                "data": {"name": "curves"},
                "transform": [{"filter": "datum.c == 'Glu'"}],
                "width": 238,
                "height": 207,
                "title": {"text": "M1+0.1% Glu", "fontSize": 12, "offset": -1},
                "layer": [
                  {
                    "mark": {"type": "area", "opacity": 0.15, "interpolate": "monotone"},
                    "encoding": {
                      "x": {"field": "t", "type": "quantitative", "title": null, "scale": {"domain": [0, 21], "nice": false}, "axis": {"values": [0, 4, 8, 12, 16, 20], "labelFlush": false, "grid": true}},
                      "y": {"field": "lo", "type": "quantitative", "title": null, "scale": {"domain": [0, 0.8], "nice": false}, "axis": {"values": [0, 0.2, 0.4, 0.6, 0.8], "labels": false, "ticks": false, "grid": true}},
                      "y2": {"field": "hi"},
                      "fill": {"field": "s", "type": "nominal", "scale": {"domain": ["BM4105RF", "BM4105RF+pELF_USZ", "VRE5_P5", "VRE53_P46"], "range": ["#1cc5cf", "#1f1f9a", "#ff7f0f", "#ff1a1a"]}, "legend": null}
                    }
                  },
                  {
                    "mark": {"type": "line", "strokeWidth": 1, "interpolate": "monotone"},
                    "encoding": {
                      "x": {"field": "t", "type": "quantitative", "title": null},
                      "y": {"field": "m", "type": "quantitative", "title": null},
                      "stroke": {"field": "s", "type": "nominal", "scale": {"domain": ["BM4105RF", "BM4105RF+pELF_USZ", "VRE5_P5", "VRE53_P46"], "range": ["#1cc5cf", "#1f1f9a", "#ff7f0f", "#ff1a1a"]}, "legend": null}
                    }
                  }
                ]
              }
            ]
          }
        ]
      }
    ]
  }
]
}
